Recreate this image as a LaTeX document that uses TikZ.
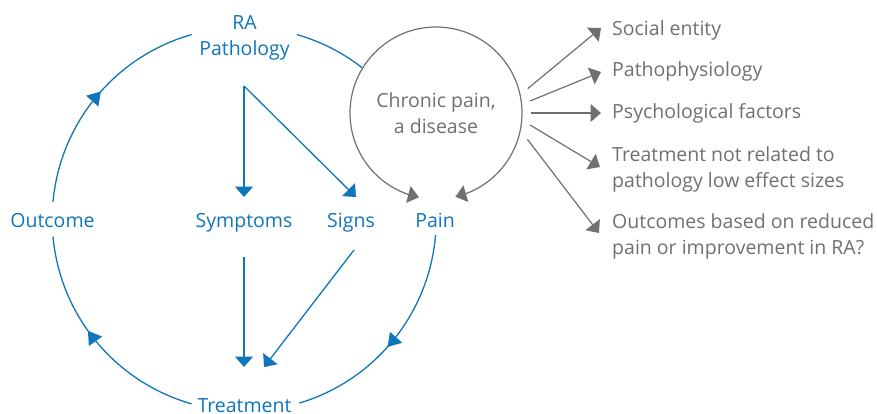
\documentclass[tikz,border=0pt]{standalone}
\usepackage{fontspec}
\setmainfont{Open Sans}
\usetikzlibrary{arrows.meta,bending,decorations.markings}
\definecolor{cycblue}{RGB}{16,118,188}
\definecolor{pgrey}{RGB}{112,112,112}
\begin{document}
\begin{tikzpicture}[x=1pt,y=1pt,
  lbl/.style={font=\fontsize{19.5}{26}\selectfont, inner sep=0pt},
  bluelbl/.style={lbl, text=cycblue, anchor=base},
  greylbl/.style={lbl, text=pgrey, anchor=base west},
  headtip/.style={-{Triangle[length=10.5pt,width=18pt]}},
  cycline/.style={draw=cycblue, line width=1.3pt},
  bluearrow/.style={cycline, headtip},
  greyline/.style={draw=pgrey, line width=1.2pt},
  greyarrow/.style={greyline, headtip},
  circarrow/.style={greyline, -{Triangle[length=11pt,width=17pt]}},
  midarrow/.style={postaction={decorate,decoration={markings,
      mark=at position #1 with {\arrow[cycblue]{Triangle[length=13pt,width=16pt]}}}}}
]
\useasboundingbox (0,0) rectangle (877,-413);

% centre of the blue cycle
\coordinate (cyc) at (244.2,-219.2);
\def\R{192}

% cycle labels
\node[bluelbl] (ra)    at (244.5,-29)  {RA};
\node[bluelbl] (path)  at (244.5,-55)  {Pathology};
\node[bluelbl] (outc)  at (52.5,-227)  {Outcome};
\node[bluelbl] (symp)  at (244,-227)   {Symptoms};
\node[bluelbl] (sign)  at (351,-227)   {Signs};
\node[bluelbl] (pain)  at (435,-227)   {Pain};
\node[bluelbl] (treat) at (244.5,-412) {Treatment};

% chronic pain circle (only its label is a node)
\node[lbl, text=pgrey, align=center, minimum size=172pt, circle] (cp) at (436,-113)
  {Chronic pain,\\a disease};

% cycle arcs
\draw[cycline, midarrow=0.53] ([shift={(174.8:\R)}]cyc) arc[start angle=174.8, end angle=105.9, radius=\R];
\draw[cycline] ([shift={(74.1:\R)}]cyc) arc[start angle=74.1, end angle=52.1, radius=\R];
\draw[cycline, midarrow=0.54] ([shift={(-4.7:\R)}]cyc) arc[start angle=-4.7, end angle=-73.3, radius=\R];
\draw[cycline, midarrow=0.56] ([shift={(254.1:\R)}]cyc) arc[start angle=254.1, end angle=185.2, radius=\R];

% pathology splits into symptoms and signs
\coordinate (split) at (244,-86);
\coordinate (symptop) at (244,-197);
\coordinate (signtop) at (356,-197);
\draw[bluearrow] (split) -- (symptop);
\draw[bluearrow] (split) -- (signtop);

% symptoms and signs lead to treatment
\coordinate (sympbot) at (244,-257);
\coordinate (signbot) at (354,-250);
\coordinate (treattop) at (244,-367);
\coordinate (treattop2) at (264,-367);
\draw[bluearrow] (sympbot) -- (treattop);
\draw[bluearrow] (signbot) -- (treattop2);

% chronic pain circle, open at the bottom, both ends pointing to pain
\draw[circarrow] (cp.center) ++(90:86) arc[start angle=90, end angle=258.6, radius=86];
\draw[circarrow] (cp.center) ++(90:86) arc[start angle=90, end angle=-77, radius=86];

% consequences of chronic pain
\node[greylbl] (soc)  at (612,-35)  {Social entity};
\node[greylbl] (phys) at (612,-76)  {Pathophysiology};
\node[greylbl] (psy)  at (612,-118) {Psychological factors};
\node[greylbl] (tr1)  at (612,-161) {Treatment not related to};
\node[greylbl] (tr2)  at (612,-187) {pathology low effect sizes};
\node[greylbl] (oc1)  at (612,-228) {Outcomes based on reduced};
\node[greylbl] (oc2)  at (612,-254) {pain or improvement in RA?};

\coordinate (socend) at (601,-28);
\coordinate (physend) at (601,-72);
\coordinate (psyend) at (601,-113);
\coordinate (trend) at (600,-167);
\coordinate (ocend) at (599,-233);

\draw[greyarrow] ([shift={(14.9:95)}]cp.center) -- (socend);
\draw[greyarrow] ([shift={(7.3:95)}]cp.center) -- (physend);
\draw[greyarrow] ([shift={(0:95)}]cp.center) -- (psyend);
\draw[greyarrow] ([shift={(-7.3:95)}]cp.center) -- (trend);
\draw[greyarrow] ([shift={(-16:95)}]cp.center) -- (ocend);
\end{tikzpicture}
\end{document}
